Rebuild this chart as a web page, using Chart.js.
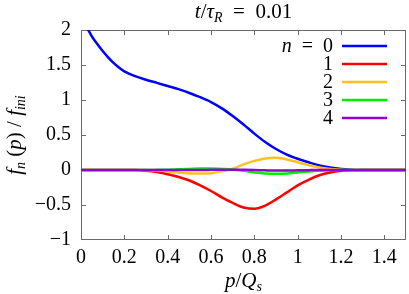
<!DOCTYPE html>
<html>
<head>
<meta charset="utf-8">
<script src="https://cdn.jsdelivr.net/npm/chart.js@4/dist/chart.umd.min.js"></script>
<style>
html,body{margin:0;padding:0;background:#fff;}
</style>
</head>
<body>
<canvas id="c" width="409" height="294" style="display:block;box-sizing:border-box;width:409px;height:294px"></canvas>
<script>
// ---- data ----
const xs = [0, 0.025, 0.05, 0.075, 0.1, 0.125, 0.15, 0.175, 0.2, 0.25, 0.3, 0.35, 0.4, 0.45, 0.5, 0.55, 0.6, 0.65, 0.7, 0.75, 0.8, 0.85, 0.9, 0.95, 1.0, 1.05, 1.1, 1.15, 1.2, 1.25, 1.3, 1.35, 1.4, 1.45, 1.5];
const n0 = [2.2, 2.05, 1.91, 1.80, 1.70, 1.61, 1.53, 1.465, 1.41, 1.34, 1.29, 1.245, 1.20, 1.155, 1.10, 1.04, 0.97, 0.88, 0.77, 0.65, 0.52, 0.40, 0.30, 0.22, 0.16, 0.11, 0.065, 0.035, 0.015, 0.005, 0, 0, 0, 0, 0];
const n1 = [0, 0, 0, 0, 0, 0, 0, 0, 0, 0, -0.01, -0.03, -0.06, -0.10, -0.15, -0.22, -0.30, -0.39, -0.47, -0.535, -0.555, -0.51, -0.42, -0.32, -0.22, -0.14, -0.075, -0.035, -0.012, -0.003, 0, 0, 0, 0, 0];
const n2 = [0, 0, 0, 0, 0, 0, 0, 0, 0, 0, 0, -0.008, -0.02, -0.035, -0.045, -0.05, -0.045, -0.02, 0.02, 0.08, 0.13, 0.165, 0.175, 0.15, 0.11, 0.07, 0.035, 0.015, 0.005, 0, 0, 0, 0, 0, 0];
const n3 = [0, 0, 0, 0, 0, 0, 0, 0, 0, 0, 0, 0.002, 0.005, 0.01, 0.015, 0.02, 0.02, 0.015, 0.008, -0.01, -0.035, -0.05, -0.055, -0.05, -0.035, -0.02, -0.01, -0.004, 0, 0, 0, 0, 0, 0, 0];
const n4 = [0, 0, 0, 0, 0, 0, 0, 0, 0, 0, 0, 0, 0, 0, 0, 0, 0.002, 0.004, 0.005, 0.003, 0, -0.005, -0.008, -0.008, -0.005, -0.002, 0, 0, 0, 0, 0, 0, 0, 0, 0];
const seriesLabels = ['n = 0', '1', '2', '3', '4'];
const seriesColors = ['#0000ff', '#ff0000', '#ffc020', '#00ee00', '#9400d3'];
const xTicks = [0, 0.2, 0.4, 0.6, 0.8, 1, 1.2, 1.4];
const yTicks = [-1, -0.5, 0, 0.5, 1, 1.5, 2];
const titleText = 't/τR = 0.01';
const xTitle = 'p/Qs';
const yTitle = 'fn(p)/fini';

const FAMILIES = ['"Liberation Serif"', "'Liberation Serif'", 'Liberation Serif', '"Liberation Serif", Tinos', "'Liberation Serif', Tinos", 'Liberation Serif, Tinos'];
let famIdx = 0;
let SERIF = FAMILIES[0];
const FS = 20;
const TS = 21;
const SUB = 14;

function drawRich(ctx, segs, x, y, align, size) {
  let w = 0;
  const fonts = segs.map(s => (s[1] ? 'italic ' : '') + (s[2] ? SUB : size) + 'px ' + SERIF);
  segs.forEach((s, i) => { ctx.font = fonts[i]; w += ctx.measureText(s[0]).width; });
  let cx = align === 'center' ? x - w / 2 : (align === 'right' ? x - w : x);
  ctx.textBaseline = 'alphabetic';
  ctx.textAlign = 'left';
  segs.forEach((s, i) => {
    ctx.font = fonts[i];
    ctx.fillText(s[0], cx, y + (s[2] ? 4 : 0));
    cx += ctx.measureText(s[0]).width;
  });
}

const decor = {
  id: 'decor',
  beforeDatasetsDraw(chart) {
    const {ctx, chartArea: a, scales} = chart;
    ctx.save();
    ctx.strokeStyle = '#6a6a6a';
    ctx.lineWidth = 1;
    ctx.strokeRect(a.left + 0.5, a.top + 0.5, a.right - a.left - 1, a.bottom - a.top - 1);
    ctx.beginPath();
    xTicks.forEach(v => {
      const px = Math.round(scales.x.getPixelForValue(v)) + 0.5;
      if (px <= a.left + 1 || px >= a.right - 1) return;
      ctx.moveTo(px, a.bottom); ctx.lineTo(px, a.bottom - 5);
      ctx.moveTo(px, a.top); ctx.lineTo(px, a.top + 5);
    });
    yTicks.forEach(v => {
      const py = Math.round(scales.y.getPixelForValue(v)) + 0.5;
      if (py <= a.top + 1 || py >= a.bottom - 1) return;
      ctx.moveTo(a.left, py); ctx.lineTo(a.left + 5, py);
      ctx.moveTo(a.right, py); ctx.lineTo(a.right - 5, py);
    });
    ctx.stroke();
    ctx.restore();
  },
  afterDraw(chart) {
    const {ctx, chartArea: a} = chart;
    ctx.save();
    ctx.fillStyle = '#000';
    drawRich(ctx, [['t', true], ['/', false], ['τ', true], ['R', true, true], ['  =  0.01', false]], (a.left + a.right) / 2, 18, 'center', TS);
    drawRich(ctx, [['p', true], ['/', false], ['Q', true], ['s', true, true]], (a.left + a.right) / 2, 287, 'center', TS);
    ctx.save();
    ctx.translate(21, (a.top + a.bottom) / 2);
    ctx.rotate(-Math.PI / 2);
    drawRich(ctx, [['f', true], ['n', true, true], [' (', false], ['p', true], [') / ', false], ['f', true], ['ini', true, true]], 0, 0, 'center', TS);
    ctx.restore();
    chart.data.datasets.forEach((ds, i) => {
      const y = 46 + i * 18;
      const lab = ds.label;
      if (lab.startsWith('n = ')) {
        drawRich(ctx, [['n', true], ['  =  ' + lab.slice(4), false]], 333, y + 6, 'right', FS);
      } else {
        drawRich(ctx, [[lab, false]], 333, y + 6, 'right', FS);
      }
      ctx.strokeStyle = ds.borderColor;
      ctx.lineWidth = 2.5;
      ctx.beginPath();
      ctx.moveTo(342, y); ctx.lineTo(387, y);
      ctx.stroke();
    });
    ctx.restore();
  }
};

const series = [n0, n1, n2, n3, n4];
const datasets = series.map((arr, i) => ({
  label: seriesLabels[i],
  data: xs.map((x, j) => ({x: x, y: arr[j]})),
  borderColor: seriesColors[i],
  backgroundColor: seriesColors[i],
  borderWidth: 2.5,
  pointRadius: 0,
  cubicInterpolationMode: 'monotone',
  fill: false,
  order: 4 - i
}));

const fmt = v => String(v).replace('-', '\u2212');

const chart = new Chart(document.getElementById('c'), {
  type: 'line',
  data: {datasets},
  options: {
    responsive: false,
    animation: false,
    events: [],
    layout: {padding: {top: 30, right: 3, left: 0, bottom: 0}},
    plugins: {
      legend: {display: false},
      tooltip: {enabled: false},
      title: {display: false, text: titleText}
    },
    scales: {
      x: {
        type: 'linear', min: 0, max: 1.5,
        afterBuildTicks: s => { s.ticks = xTicks.map(v => ({value: v})); },
        afterFit: s => { s.height = 54; },
        grid: {display: false, drawTicks: false},
        border: {display: false},
        title: {display: false, text: xTitle},
        ticks: {callback: fmt, color: '#000', padding: 6, maxRotation: 0, autoSkip: false, font: {family: SERIF, size: FS}}
      },
      y: {
        type: 'linear', min: -1, max: 2,
        afterBuildTicks: s => { s.ticks = yTicks.map(v => ({value: v})); },
        afterFit: s => { s.width = 81; },
        grid: {display: false, drawTicks: false},
        border: {display: false},
        title: {display: false, text: yTitle},
        ticks: {callback: fmt, color: '#000', padding: 10, autoSkip: false, font: {family: SERIF, size: FS}}
      }
    }
  },
  plugins: [decor]
});

// re-render with a fresh font string so the serif face is picked up once resolved
function rerender() {
  famIdx = (famIdx + 1) % FAMILIES.length;
  SERIF = FAMILIES[famIdx];
  chart.options.scales.x.ticks.font = {family: SERIF, size: FS};
  chart.options.scales.y.ticks.font = {family: SERIF, size: FS};
  chart.update('none');
}
requestAnimationFrame(rerender);
[5, 15, 25, 35, 42, 48, 53, 58, 65, 80, 100, 150, 250, 400, 700, 1000].forEach(t => setTimeout(rerender, t));
window.addEventListener('load', () => { rerender(); setTimeout(rerender, 10); });
if (document.fonts && document.fonts.ready) document.fonts.ready.then(rerender);
</script>
</body>
</html>
